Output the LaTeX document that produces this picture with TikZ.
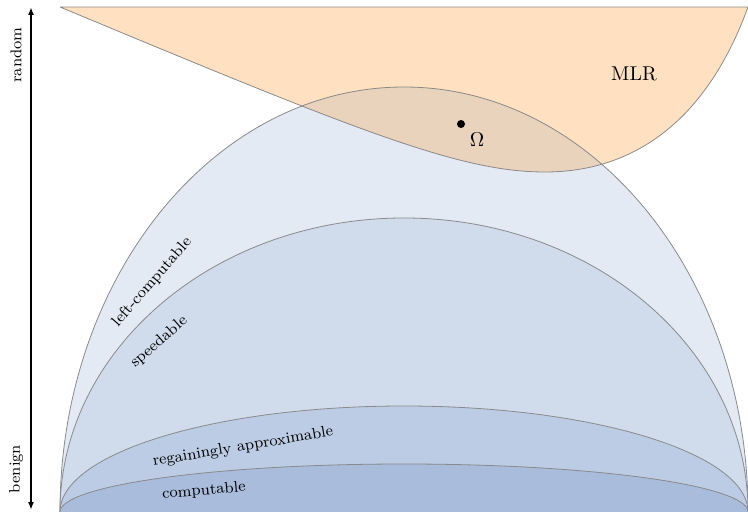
\documentclass[tikz,border=0pt]{standalone}
\usepackage{tikz}
\usetikzlibrary{arrows.meta}

\definecolor{mlrfill}{RGB}{255,225,194}
\definecolor{overlapfill}{RGB}{233,211,188}
\definecolor{leftcfill}{RGB}{227,234,244}
\definecolor{speedfill}{RGB}{208,220,236}
\definecolor{regainfill}{RGB}{188,204,228}
\definecolor{compfill}{RGB}{169,188,220}
\definecolor{edgegray}{RGB}{138,138,138}

\begin{document}
\begin{tikzpicture}[x=0.5pt,y=0.5pt,yscale=-1]
            \tikzstyle{every node}=[font=\fontsize{7.8}{9.5}\selectfont]
            \tikzset{region/.style={draw=edgegray,line width=0.4pt}}
            \useasboundingbox (0,0) rectangle (748,512);

            %Half ellipse: left-computable
            \fill [leftcfill] (60,512) arc[start angle=180,end angle=360,x radius=344,y radius=425] -- cycle;
            %Shape: MLR
            \fill [mlrfill] (60,7) -- (748,7) .. controls (705,125) and (630,172) .. (545,172) .. controls (460,172) and (360,132) .. (60,7) -- cycle;
            %Overlap of MLR and left-computable
            \begin{scope}
              \clip (60,7) -- (748,7) .. controls (705,125) and (630,172) .. (545,172) .. controls (460,172) and (360,132) .. (60,7) -- cycle;
              \fill [overlapfill] (60,512) arc[start angle=180,end angle=360,x radius=344,y radius=425] -- cycle;
            \end{scope}
            \draw [region] (60,512) arc[start angle=180,end angle=360,x radius=344,y radius=425];
            \draw [region] (60,7) -- (748,7) .. controls (705,125) and (630,172) .. (545,172) .. controls (460,172) and (360,132) .. (60,7);

            %Half ellipse: speedable
            \draw [region,fill=speedfill] (60,512) arc[start angle=180,end angle=360,x radius=344,y radius=294];
            %Half ellipse: regainingly approximable
            \draw [region,fill=regainfill] (60,512) arc[start angle=180,end angle=360,x radius=344,y radius=106];
            %Half ellipse: computable
            \draw [region,fill=compfill] (60,512) arc[start angle=180,end angle=360,x radius=344,y radius=48];

            %Axis
            \coordinate (benignend) at (31,510);
            \coordinate (randomend) at (31,7);
            \draw [line width=0.9pt,{Latex[length=4pt,width=3pt]}-{Latex[length=4pt,width=3pt]}] (benignend) -- (randomend);

            % Text Node
            \node (random) [rotate=90,inner sep=0.75pt] at (16,55) {random};
            % Text Node
            \node (benign) [rotate=90,inner sep=0.75pt] at (16,469) {benign};
            % Text Node
            \node (mlr) [font=\normalsize,inner sep=0.75pt] at (634,74) {MLR};
            % Omega
            \fill (461,124) circle[radius=4] coordinate (omegadot);
            \node (omega) [font=\normalsize,inner sep=0.75pt] at (477,140) {$\Omega$};
            % Text Node
            \node (leftc) [rotate=49,inner sep=0.75pt] at (152,282) {left-computable};
            % Text Node
            \node (speed) [rotate=41,inner sep=0.75pt] at (159,342) {speedable};
            % Text Node
            \node (regain) [rotate=9.5,inner sep=0.75pt] at (243,447) {regainingly approximable};
            % Text Node
            \node (comp) [rotate=5,inner sep=0.75pt] at (204,491) {computable};
\end{tikzpicture}
\end{document}
